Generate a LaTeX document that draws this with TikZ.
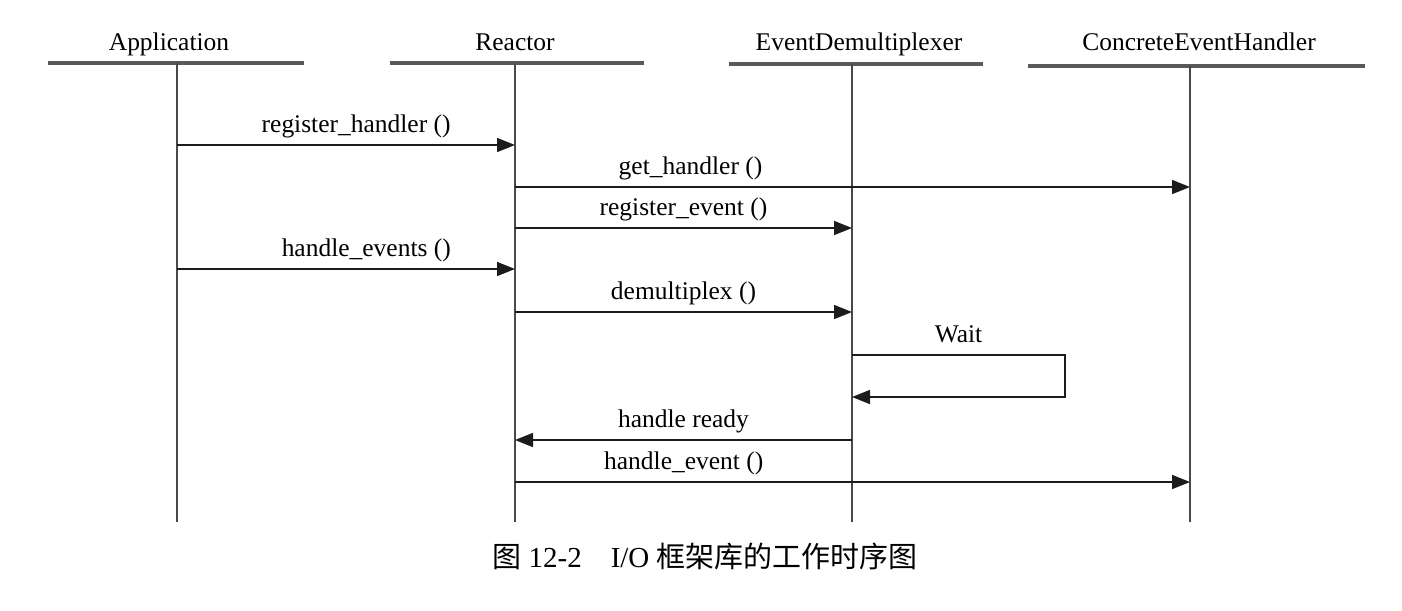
\documentclass[tikz,border=0pt]{standalone}
\usepackage{fontspec}
\setmainfont{Liberation Serif}
\newfontfamily\cjk{Noto Sans CJK SC}
\usetikzlibrary{arrows.meta}
\definecolor{seqink}{HTML}{1C1C1C}
\definecolor{seqgrey}{HTML}{595959}

\begin{document}
\begin{tikzpicture}[
  x=0.02cm, y=-0.02cm,
  line cap=butt, line join=miter,
  >={Triangle[length=0.36cm, width=0.28cm]},
  obj/.style = {font=\fontsize{14.5}{16}\selectfont, inner sep=0pt, anchor=base},
  hdline/.style = {draw=seqgrey, line width=1.9pt},
  life/.style = {draw=seqink!80, line width=0.8pt},
  msg/.style = {->, draw=seqink, line width=0.9pt},
  lbl/.style = {font=\fontsize{14.5}{16}\selectfont, inner sep=0pt,
                text depth=3.5pt, above=3pt},
  figcap/.style = {font=\fontsize{16.5}{18}\selectfont, inner sep=0pt}
]

\useasboundingbox (0,0) rectangle (1402,610);

% 对象
\node[obj] (app) at (169,50) {Application};
\node[obj] (rea) at (515,50) {Reactor};
\node[obj] (dem) at (859,50) {EventDemultiplexer};
\node[obj] (han) at (1199,50) {ConcreteEventHandler};

\draw[hdline] (48,63) -- (304,63);
\draw[hdline] (390,63) -- (644,63);
\draw[hdline] (729,64) -- (983,64);
\draw[hdline] (1028,66) -- (1365,66);

% 生命线
\coordinate (appT) at (177,63);  \coordinate (appB) at (177,522);
\coordinate (reaT) at (515,63);  \coordinate (reaB) at (515,522);
\coordinate (demT) at (852,64);  \coordinate (demB) at (852,522);
\coordinate (hanT) at (1190,66); \coordinate (hanB) at (1190,522);
\draw[life] (appT) -- (appB);
\draw[life] (reaT) -- (reaB);
\draw[life] (demT) -- (demB);
\draw[life] (hanT) -- (hanB);

% 消息
\coordinate (m1) at (0,145);
\coordinate (m2) at (0,187);
\coordinate (m3) at (0,228);
\coordinate (m4) at (0,269);
\coordinate (m5) at (0,312);
\coordinate (w1) at (0,355);
\coordinate (w2) at (0,397);
\coordinate (m6) at (0,440);
\coordinate (m7) at (0,482);
\coordinate (wr) at (1065,0);

\draw[msg] (appB |- m1) -- node[lbl, pos=0.53] {register\_handler ()} (reaB |- m1);
\draw[msg] (reaB |- m2) -- node[lbl, pos=0.26] {get\_handler ()} (hanB |- m2);
\draw[msg] (reaB |- m3) -- node[lbl] {register\_event ()} (demB |- m3);
\draw[msg] (appB |- m4) -- node[lbl, pos=0.56] {handle\_events ()} (reaB |- m4);
\draw[msg] (reaB |- m5) -- node[lbl] {demultiplex ()} (demB |- m5);

% 等待
\draw[msg] (demB |- w1) -- node[lbl] {Wait} (wr |- w1) -- (wr |- w2) -- (demB |- w2);

\draw[msg] (demB |- m6) -- node[lbl] {handle ready} (reaB |- m6);
\draw[msg] (reaB |- m7) -- node[lbl, pos=0.25] {handle\_event ()} (hanB |- m7);

% 图题
\node[figcap] (fig) at (705,556) {{\cjk 图} 12-2\quad I/O {\cjk 框架库的工作时序图}};

\end{tikzpicture}
\end{document}
